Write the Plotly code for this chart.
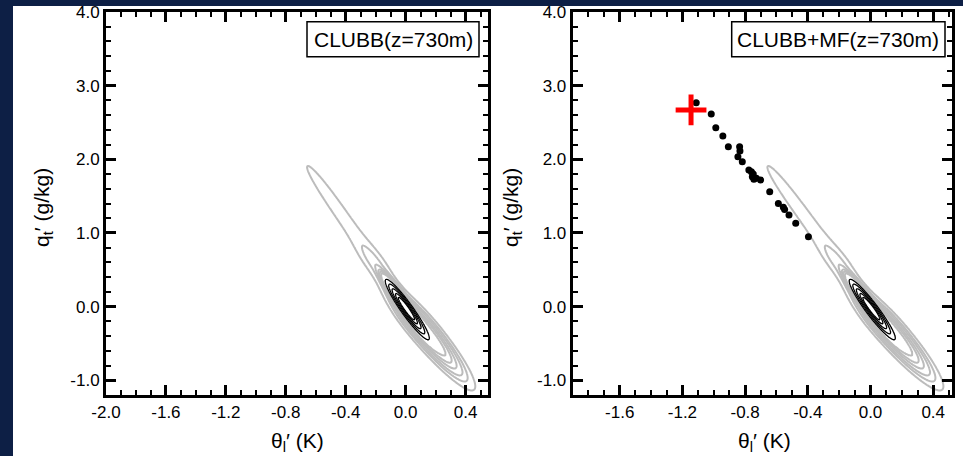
import numpy as np
import plotly.graph_objects as go

# ---------------- data ----------------
panel_titles = ["CLUBB(z=730m)", "CLUBB+MF(z=730m)"]
x_label = "θ<sub>l</sub>′ (K)"
y_label = "q<sub>t</sub>′ (g/kg)"

x_tick_vals = [-2.0, -1.6, -1.2, -0.8, -0.4, 0.0, 0.4]
x_tick_text = ["-2.0", "-1.6", "-1.2", "-0.8", "-0.4", "0.0", "0.4"]
y_tick_vals = [-1.0, 0.0, 1.0, 2.0, 3.0, 4.0]
y_tick_text = ["-1.0", "0.0", "1.0", "2.0", "3.0", "4.0"]

# Joint PDF of (theta_l', q_t'): elongated components
# (center, axis direction, along-axis scale up/down, along-axis shape exponent up,
#  cross-axis sd, amplitude)
pdf_cx = [0.005, 0.116, -0.253, -0.204]
pdf_cy = [-0.025, -0.304, 0.733, 0.591]
pdf_ux = [-0.322, -0.37, -0.322, -0.322]
pdf_uy = [0.947, 0.93, 0.947, 0.947]
pdf_sa_up = [0.168, 0.30, 1.31, 0.20]
pdf_sa_dn = [0.168, 0.396, 0.40, 0.30]
pdf_p_up = [2.0, 2.0, 4.0, 2.0]
pdf_sb = [0.018, 0.052, 0.052, 0.05]
pdf_amp = [1.0, 0.026, 0.003, 0.0022]

gray_levels = [0.002, 0.004, 0.006, 0.009, 0.012, 0.016]
black_levels = [0.05, 0.12, 0.25, 0.45, 0.65, 0.85]

# Mass-flux plume samples (right panel)
mf_theta = [-1.112, -1.016, -0.987, -0.942, -0.907, -0.835, -0.833, -0.846,
            -0.818, -0.776, -0.760, -0.748, -0.754, -0.728, -0.701, -0.744,
            -0.643, -0.588, -0.556, -0.548, -0.520, -0.477, -0.396]
mf_qt = [2.768, 2.615, 2.430, 2.316, 2.171, 2.171, 2.113, 2.035,
         1.967, 1.855, 1.830, 1.800, 1.764, 1.742, 1.719, 1.728,
         1.560, 1.400, 1.348, 1.320, 1.244, 1.131, 0.949]
mf_mean_theta = [-1.145]
mf_mean_qt = [2.67]

# ---------------- field ----------------
def pdf(X, Y):
    f = np.zeros_like(X)
    for cx, cy, ux, uy, su, sd, pu, sb, A in zip(pdf_cx, pdf_cy, pdf_ux, pdf_uy,
                                                 pdf_sa_up, pdf_sa_dn, pdf_p_up,
                                                 pdf_sb, pdf_amp):
        n = np.hypot(ux, uy)
        ux, uy = ux / n, uy / n
        dx, dy = X - cx, Y - cy
        a = dx * ux + dy * uy
        b = -dx * uy + dy * ux
        along = np.where(a >= 0, np.abs(a / su) ** pu, (a / sd) ** 2)
        f += A * np.exp(-0.5 * (along + (b / sb) ** 2))
    return f

lev_ext = [0.0] + gray_levels + black_levels + [1e9]
idx_ext = list(range(len(lev_ext)))

def level_index(f):
    return np.round(np.interp(f, lev_ext, idx_ext), 3)

xg = np.arange(-0.9, 0.66, 0.005)
yg = np.arange(-1.35, 2.25, 0.01)
XG, YG = np.meshgrid(xg, yg)
Zg = level_index(pdf(XG, YG))

xb = np.arange(-0.25, 0.25, 0.0025)
yb = np.arange(-0.7, 0.6, 0.005)
XB, YB = np.meshgrid(xb, yb)
Zb = level_index(pdf(XB, YB))

# ---------------- figure ----------------
W, H = 963, 456
def fx(p): return p / W
def fy(p): return 1 - p / H

NAVY = "#0d1f45"
GRAY = "#bcbcbc"
FONT = "Liberation Sans, Arial, Helvetica, sans-serif"

fig = go.Figure()

axes = [("x", "y"), ("x2", "y2")]
for xa, ya in axes:
    fig.add_trace(go.Contour(
        x=xg, y=yg, z=Zg, xaxis=xa, yaxis=ya, autocontour=False,
        contours=dict(start=1, end=len(gray_levels), size=1, coloring="none"),
        line=dict(color=GRAY, width=2.0, smoothing=1), showscale=False,
        hoverinfo="skip"))
    fig.add_trace(go.Contour(
        x=xb, y=yb, z=Zb, xaxis=xa, yaxis=ya, autocontour=False,
        contours=dict(start=len(gray_levels) + 1,
                      end=len(gray_levels) + len(black_levels), size=1,
                      coloring="none"),
        line=dict(color="black", width=1.3, smoothing=1), showscale=False,
        hoverinfo="skip"))

fig.add_trace(go.Scatter(x=mf_theta, y=mf_qt, mode="markers", xaxis="x2", yaxis="y2",
                         marker=dict(size=7, color="black"), hoverinfo="skip"))
fig.add_trace(go.Scatter(x=mf_mean_theta, y=mf_mean_qt, mode="markers", xaxis="x2", yaxis="y2",
                         marker=dict(symbol="cross-thin", size=22, color="#ff0000",
                                     line=dict(width=5, color="#ff0000")),
                         hoverinfo="skip"))

def xaxis_cfg(dom, rng, anchor):
    return dict(domain=dom, range=rng, anchor=anchor, showline=True, linecolor="black",
                linewidth=3, mirror="ticks", ticks="inside", ticklen=10, tickwidth=2.5,
                tickcolor="black", tickmode="array", tickvals=x_tick_vals,
                ticktext=x_tick_text, showgrid=False, zeroline=False, automargin=False,
                tickfont=dict(size=17, color="black", family=FONT),
                minor=dict(tickmode="linear", tick0=0.0, dtick=0.1, ticks="inside",
                           ticklen=5, tickwidth=1.5, tickcolor="black", showgrid=False))

def yaxis_cfg(dom, anchor):
    return dict(domain=dom, range=[-1.2, 4.0], anchor=anchor, showline=True,
                linecolor="black", linewidth=3, mirror="ticks", ticks="inside",
                ticklen=10, tickwidth=2.5, tickcolor="black", tickmode="array",
                tickvals=y_tick_vals, ticktext=y_tick_text, showgrid=False,
                zeroline=False, automargin=False,
                tickfont=dict(size=17, color="black", family=FONT),
                minor=dict(tickmode="linear", tick0=0.0, dtick=0.2, ticks="inside",
                           ticklen=5, tickwidth=1.5, tickcolor="black", showgrid=False))

ydom = [fy(395), fy(12)]
fig.update_layout(
    width=W, height=H, autosize=False, margin=dict(l=0, r=0, t=0, b=0, pad=0),
    paper_bgcolor=NAVY, plot_bgcolor="white", showlegend=False,
    font=dict(family=FONT, color="black"),
    xaxis=xaxis_cfg([fx(106), fx(488)], [-2.0, 0.55], "y"),
    yaxis=yaxis_cfg(ydom, "x"),
    xaxis2=xaxis_cfg([fx(572.7), fx(952)], [-1.9, 0.52], "y2"),
    yaxis2=yaxis_cfg(ydom, "x2"),
)

shapes = [dict(type="rect", xref="paper", yref="paper", x0=fx(13), x1=1.0,
               y0=0.0, y1=fy(6), fillcolor="white", line=dict(width=0), layer="below")]
annotations = []
boxes = [(307, 479), (731.7, 945)]
for (b0, b1), title in zip(boxes, panel_titles):
    shapes.append(dict(type="rect", xref="paper", yref="paper", x0=fx(b0), x1=fx(b1),
                       y0=fy(56.7), y1=fy(21.7), fillcolor="white",
                       line=dict(color="black", width=1.5), layer="above"))
    annotations.append(dict(xref="paper", yref="paper", x=fx((b0 + b1) / 2), y=fy(39.5),
                            text=title, showarrow=False, xanchor="center", yanchor="middle",
                            font=dict(size=21, color="black", family=FONT)))

for xc in (297, 764):
    annotations.append(dict(xref="paper", yref="paper", x=fx(xc), y=fy(442),
                            text=x_label, showarrow=False, xanchor="center",
                            yanchor="middle", font=dict(size=21, color="black", family=FONT)))
for xc in (43, 512):
    annotations.append(dict(xref="paper", yref="paper", x=fx(xc), y=fy(208),
                            text=y_label, showarrow=False, textangle=-90,
                            xanchor="center", yanchor="middle",
                            font=dict(size=21, color="black", family=FONT)))

fig.update_layout(shapes=shapes, annotations=annotations)
fig.write_html("out.html", config={"responsive": False, "displayModeBar": False},
               post_script="document.body.style.margin='0px';"
                           "document.body.style.padding='0px';"
                           "document.body.style.overflow='hidden';")
